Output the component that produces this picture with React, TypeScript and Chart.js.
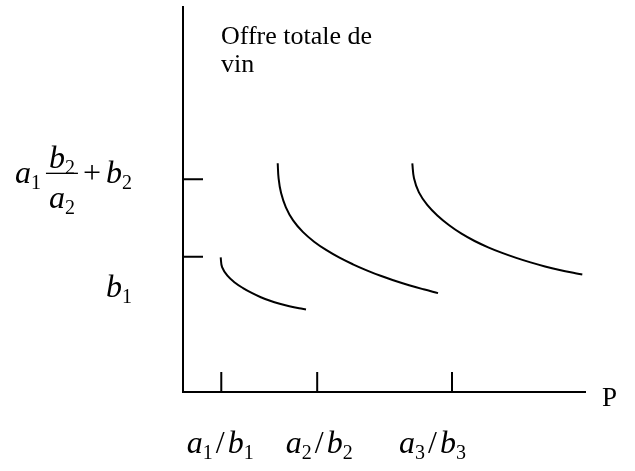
import React, { useEffect, useRef } from 'react';
import { Chart, registerables } from 'chart.js';

Chart.register(...registerables);

// ---- data (abstract units: x 0..100, y 0..100) ----
const curve1X = [9.35, 9.7, 11.02, 12.83, 14.89, 17.05, 19.31, 21.61, 24.0, 26.38, 28.81, 30.52];
const curve1Y = [34.99, 32.42, 30.21, 28.44, 26.99, 25.74, 24.62, 23.71, 22.94, 22.29, 21.74, 21.43];

const curve2X = [23.5, 23.72, 24.34, 25.53, 27.32, 29.73, 32.53, 35.61, 38.83, 42.16, 45.58, 49.03, 52.56, 56.1, 59.68, 63.28];
const curve2Y = [59.4, 55.51, 51.66, 47.97, 44.57, 41.58, 39.04, 36.83, 34.88, 33.17, 31.61, 30.18, 28.91, 27.74, 26.68, 25.69];

const curve3X = [56.9, 57.32, 58.54, 60.6, 63.18, 66.05, 69.11, 72.36, 75.73, 79.18, 82.68, 86.23, 89.83, 93.45, 97.1, 99.08];
const curve3Y = [59.4, 55.53, 51.84, 48.6, 45.79, 43.32, 41.12, 39.22, 37.58, 36.13, 34.83, 33.66, 32.62, 31.71, 30.91, 30.52];

const xTickValues = [9.5, 33.3, 66.75];
const xTickLabels = ['a_1 / b_1', 'a_2 / b_2', 'a_3 / b_3'];
const yTickValues = [35.14, 55.25];
const yTickLabels = ['b_1', 'a_1 {b_2/a_2} + b_2'];
const xAxisTitle = 'P';
const yAxisTitle = ['Offre totale de', 'vin'];

// ---- styling ----
const SERIF = '"Liberation Serif", "Times New Roman", serif';
const MAIN = 32;
const SUBSIZE = 20;
const fontIt = `italic ${MAIN}px ${SERIF}`;
const fontUp = `${MAIN}px ${SERIF}`;
const fontSub = `${SUBSIZE}px ${SERIF}`;
const fontText = `26px ${SERIF}`;
const fontTitleP = `27px ${SERIF}`;
const SUB_DROP = 6;
const FRAC_PAD = 3;
const NUM_RISE = 15;
const DEN_DROP = 25;
const BAR_RISE = 10;

type Tok = { kind: 'it' | 'up' | 'sub' | 'gap' | 'frac'; text?: string; num?: Tok[]; den?: Tok[]; w?: number };

function parse(s: string, gap: number): Tok[] {
  const out: Tok[] = [];
  let i = 0;
  while (i < s.length) {
    const c = s[i];
    if (c === '{') {
      const end = s.indexOf('}', i);
      const [n, d] = s.slice(i + 1, end).split('/');
      out.push({ kind: 'frac', num: parse(n, gap), den: parse(d, gap) });
      i = end + 1;
    } else if (c === '_') {
      out.push({ kind: 'sub', text: s[i + 1] });
      i += 2;
    } else if (c === ' ') {
      out.push({ kind: 'gap', w: gap });
      i++;
    } else if (/[a-zA-Z]/.test(c)) {
      out.push({ kind: 'it', text: c });
      i++;
    } else {
      out.push({ kind: 'up', text: c });
      i++;
    }
  }
  return out;
}

function tokWidth(ctx: CanvasRenderingContext2D, t: Tok): number {
  switch (t.kind) {
    case 'it':
      ctx.font = fontIt;
      return ctx.measureText(t.text!).width;
    case 'up':
      ctx.font = fontUp;
      return ctx.measureText(t.text!).width;
    case 'sub':
      ctx.font = fontSub;
      return ctx.measureText(t.text!).width;
    case 'gap':
      return t.w!;
    case 'frac':
      return Math.max(measure(ctx, t.num!), measure(ctx, t.den!)) + 2 * FRAC_PAD;
  }
  return 0;
}

function measure(ctx: CanvasRenderingContext2D, toks: Tok[]): number {
  let w = 0;
  for (const t of toks) w += tokWidth(ctx, t);
  return w;
}

function drawToks(ctx: CanvasRenderingContext2D, toks: Tok[], x: number, base: number) {
  for (const t of toks) {
    const w = tokWidth(ctx, t);
    if (t.kind === 'it') {
      ctx.font = fontIt;
      ctx.fillText(t.text!, x, base);
    } else if (t.kind === 'up') {
      ctx.font = fontUp;
      ctx.fillText(t.text!, x, base);
    } else if (t.kind === 'sub') {
      ctx.font = fontSub;
      ctx.fillText(t.text!, x, base + SUB_DROP);
    } else if (t.kind === 'frac') {
      const nw = measure(ctx, t.num!);
      const dw = measure(ctx, t.den!);
      drawToks(ctx, t.num!, x + (w - nw) / 2, base - NUM_RISE);
      drawToks(ctx, t.den!, x + (w - dw) / 2, base + DEN_DROP);
      ctx.fillRect(x, base - BAR_RISE - 0.6, w, 1.3);
    }
    x += w;
  }
}

const diagramPlugin = {
  id: 'diagram',
  afterDraw(chart: any) {
    const { ctx, scales } = chart;
    const xs = scales.x;
    const ys = scales.y;
    const x0 = xs.getPixelForValue(0);
    const y0 = ys.getPixelForValue(0);
    const xEnd = xs.getPixelForValue(100);
    const yTop = ys.getPixelForValue(100);
    ctx.save();
    ctx.strokeStyle = '#000';
    ctx.fillStyle = '#000';
    ctx.lineWidth = 2;
    ctx.lineCap = 'butt';
    // axes
    ctx.beginPath();
    ctx.moveTo(x0, yTop - 1);
    ctx.lineTo(x0, y0 + 1);
    ctx.moveTo(x0 - 1, y0);
    ctx.lineTo(xEnd, y0);
    ctx.stroke();
    // tick marks
    ctx.beginPath();
    xTickValues.forEach((v) => {
      const px = xs.getPixelForValue(v);
      ctx.moveTo(px, y0);
      ctx.lineTo(px, y0 - 20);
    });
    yTickValues.forEach((v) => {
      const py = ys.getPixelForValue(v);
      ctx.moveTo(x0, py);
      ctx.lineTo(x0 + 20, py);
    });
    ctx.stroke();

    ctx.textBaseline = 'alphabetic';
    ctx.textAlign = 'left';
    // x tick labels (centred under the ticks)
    const xLabelShift = [-1, 2, -19.5];
    xTickLabels.forEach((lab, i) => {
      const toks = parse(lab, 3);
      const w = measure(ctx, toks);
      const cx = xs.getPixelForValue(xTickValues[i]) + xLabelShift[i];
      drawToks(ctx, toks, cx - w / 2, y0 + 61);
    });
    // y tick labels (right aligned left of the axis)
    const yLabelDrop = [40, 4];
    yTickLabels.forEach((lab, i) => {
      const toks = parse(lab, 5);
      const w = measure(ctx, toks);
      const right = x0 - 51;
      drawToks(ctx, toks, right - w, ys.getPixelForValue(yTickValues[i]) + yLabelDrop[i]);
    });
    // axis titles
    ctx.font = fontTitleP;
    ctx.fillText(xAxisTitle, xEnd + 16, y0 + 14);
    ctx.font = fontText;
    yAxisTitle.forEach((line, i) => {
      ctx.fillText(line, x0 + 38, 43.5 + i * 28);
    });
    ctx.restore();
  },
};

const lineStyle = {
  borderColor: '#000',
  borderWidth: 2,
  pointRadius: 0,
  fill: false,
  tension: 0.4,
  borderCapStyle: 'butt' as const,
};

export default function App() {
  const ref = useRef<HTMLCanvasElement | null>(null);
  useEffect(() => {
    if (!ref.current) return;
    const toPts = (xs: number[], ys: number[]) => xs.map((x, i) => ({ x, y: ys[i] }));
    const chart = new Chart(ref.current, {
      type: 'line',
      data: {
        datasets: [
          { data: toPts(curve1X, curve1Y), ...lineStyle },
          { data: toPts(curve2X, curve2Y), ...lineStyle },
          { data: toPts(curve3X, curve3Y), ...lineStyle },
        ],
      },
      options: {
        responsive: false,
        animation: false,
        devicePixelRatio: 1,
        layout: { padding: { left: 183, top: 7, right: 49, bottom: 79 } },
        scales: {
          x: { type: 'linear', min: 0, max: 100, display: false },
          y: { type: 'linear', min: 0, max: 100, display: false },
        },
        plugins: { legend: { display: false }, tooltip: { enabled: false } },
      },
      plugins: [diagramPlugin],
    } as any);
    return () => chart.destroy();
  }, []);
  return (
    <div style={{ position: 'absolute', left: 0, top: 0, width: 635, height: 471, background: '#fff' }}>
      <canvas ref={ref} width={635} height={471} style={{ display: 'block' }} />
    </div>
  );
}
